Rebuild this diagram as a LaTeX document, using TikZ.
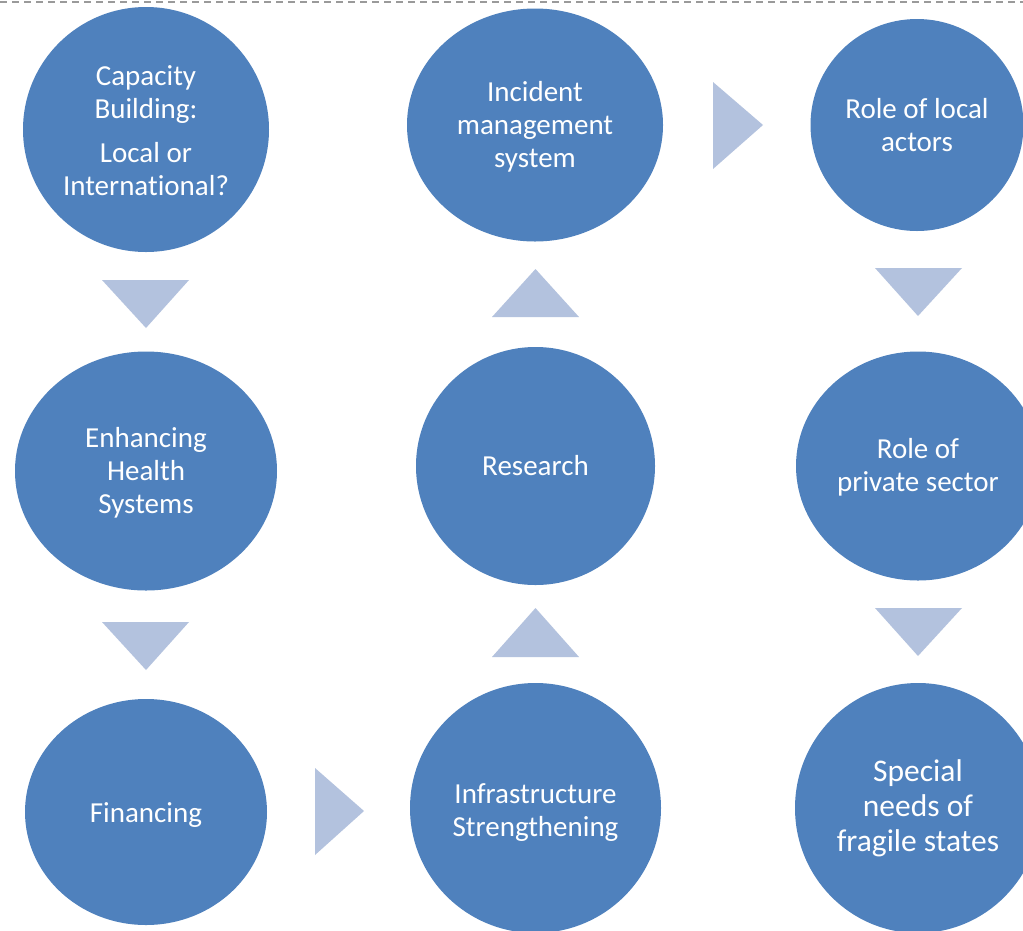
\documentclass[tikz,border=0pt]{standalone}
\usepackage{fontspec}
\setmainfont[Ligatures=CommonOff]{Carlito}
\usetikzlibrary{shapes.geometric}
\definecolor{cblue}{HTML}{4F81BD}
\definecolor{tblue}{HTML}{B3C2DE}
\definecolor{dgray}{HTML}{9A9A9A}
\tikzset{
  bubble/.style={ellipse, fill=cblue, draw=none, inner sep=0pt},
  caption/.style={text=white, align=center, inner sep=0pt,
    font=\fontsize{29}{33}\selectfont},
  pointer/.style={fill=tblue, draw=none},
  topline/.style={draw=dgray, line width=1.6pt, dash pattern=on 7pt off 5pt}
}
\begin{document}
\begin{tikzpicture}[x=1pt,y=-1pt]
\useasboundingbox (0,0) rectangle (1023,930);
\fill[white] (0,0) rectangle (1023,930);
\coordinate (tl) at (0,2);
\coordinate (tr) at (1023,2);
\draw[topline] (tl) -- (tr);

\node[bubble, minimum width=246pt, minimum height=245pt] (cap) at (146,129.5) {};
\node[caption, yshift=-1pt] (capt) at (cap.center) {Capacity\\Building:\\[11pt]Local or\\International?};
\node[bubble, minimum width=262pt, minimum height=239pt] (ehs) at (146,471) {};
\node[caption, yshift=-2pt] (ehst) at (ehs.center) {Enhancing\\Health\\Systems};
\node[bubble, minimum width=242pt, minimum height=226pt] (fin) at (146,812) {};
\node[caption, yshift=-3pt] (fint) at (fin.center) {Financing};
\node[bubble, minimum width=256pt, minimum height=233pt] (ims) at (535,125) {};
\node[caption, yshift=-2pt] (imst) at (ims.center) {Incident\\management\\system};
\node[bubble, minimum width=239pt, minimum height=238pt] (res) at (535.5,466) {};
\node[caption, yshift=0pt] (rest) at (res.center) {Research};
\node[bubble, minimum width=251pt, minimum height=250pt] (inf) at (535.5,808) {};
\node[caption, yshift=-5pt] (inft) at (inf.center) {Infrastructure\\Strengthening};
\node[bubble, minimum width=213pt, minimum height=212pt] (loc) at (917,125) {};
\node[caption, yshift=0pt] (loct) at (loc.center) {Role of local\\actors};
\node[bubble, minimum width=244pt, minimum height=229pt] (pri) at (918,466) {};
\node[caption, yshift=-1pt] (prit) at (pri.center) {Role of\\private sector};
\node[bubble, minimum width=246pt, minimum height=250pt] (frs) at (918,808) {};
\node[caption, font=\fontsize{31.5}{35}\selectfont] (frst) at (frs.center) {Special\\needs of\\fragile states};

% arrow shapes
\fill[pointer] (102,280) -- (189,280) -- (146,328) -- cycle;
\fill[pointer] (102,622) -- (189,622) -- (146,670) -- cycle;
\fill[pointer] (315,768) -- (364,811) -- (315,855) -- cycle;
\fill[pointer] (492,657) -- (579,657) -- (535.5,608) -- cycle;
\fill[pointer] (492,317) -- (579,317) -- (535.5,269) -- cycle;
\fill[pointer] (713,82) -- (763,125) -- (713,169) -- cycle;
\fill[pointer] (875,268) -- (962,268) -- (918,316) -- cycle;
\fill[pointer] (875,608) -- (962,608) -- (918,656) -- cycle;
\end{tikzpicture}
\end{document}
